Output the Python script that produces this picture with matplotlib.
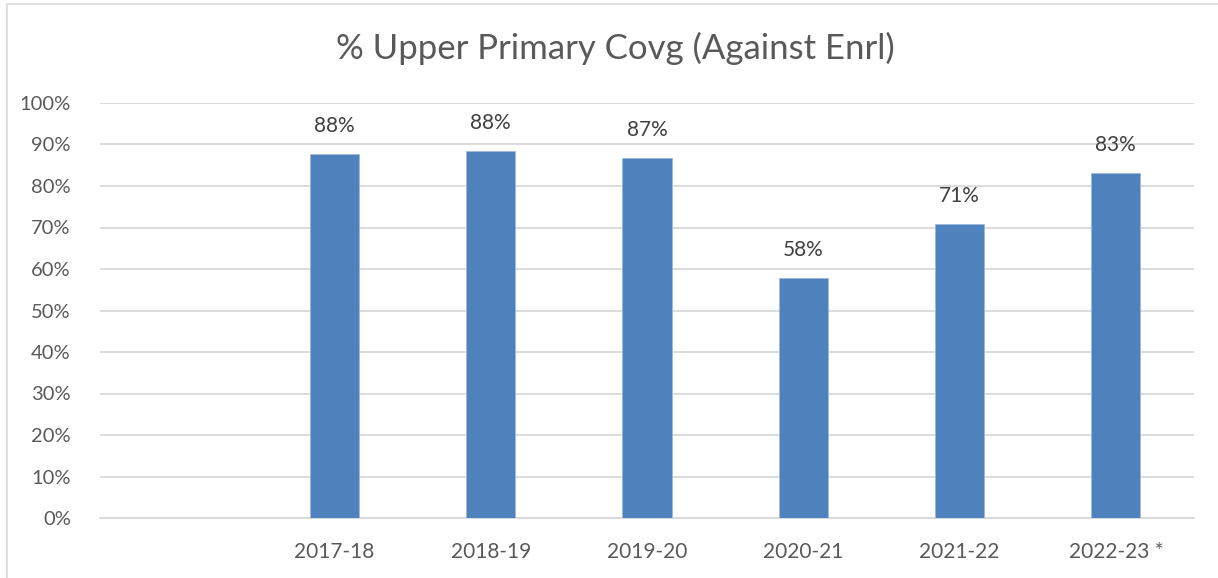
import matplotlib
matplotlib.use("Agg")
import matplotlib.pyplot as plt
from matplotlib.patches import Rectangle

categories = ["", "2017-18", "2018-19", "2019-20", "2020-21", "2021-22", "2022-23 *"]
values = [None, 87.8, 88.4, 86.8, 57.8, 70.9, 83.1]
labels = ["", "88%", "88%", "87%", "58%", "71%", "83%"]
yticks = [0, 10, 20, 30, 40, 50, 60, 70, 80, 90, 100]

W, H = 1218, 578
fig = plt.figure(figsize=(W / 100, H / 100), dpi=100)
plt.rcParams['font.family'] = ['Lato', 'DejaVu Sans']

# chart border
fig.patches.append(Rectangle((7 / W, -0.05), 1.1, (H - 4) / H + 0.05, transform=fig.transFigure,
                             fill=False, edgecolor="#D9D9D9", linewidth=1.2))

ax = fig.add_axes([100 / W, 60 / H, (1194 - 100) / W, (518 - 103) / H])
xs = list(range(len(categories)))
bx = [x for x, v in zip(xs, values) if v is not None]
bv = [v for v in values if v is not None]
bl = [l for l, v in zip(labels, values) if v is not None]
ax.bar(bx, bv, width=0.315, color="#4F81BD", edgecolor="#9DB9DE", linewidth=0.6, zorder=3)
for x, v, l in zip(bx, bv, bl):
    ax.annotate(l, (x, v), xytext=(0, 13), textcoords="offset points", ha="center", va="bottom",
                fontsize=15, color="#404040")

ax.set_xlim(-0.5, len(categories) - 0.5)
ax.set_ylim(0, 100)
ax.set_yticks(yticks)
ax.set_yticklabels([f"{t}%" for t in yticks])
ax.set_xticks(xs)
ax.set_xticklabels(categories)
ax.yaxis.grid(True, color="#D9D9D9", linewidth=1.3, zorder=0)
ax.set_axisbelow(True)
for s in ["top", "right", "left"]:
    ax.spines[s].set_visible(False)
ax.spines["bottom"].set_color("#D9D9D9")
ax.spines["bottom"].set_linewidth(1.3)
ax.tick_params(axis="both", length=0, labelsize=14.5, labelcolor="#595959")
ax.tick_params(axis="x", labelsize=15, pad=17)
ax.tick_params(axis="y", pad=21)

fig.text(615 / W, 1 - 48 / H, "% Upper Primary Covg (Against Enrl)", ha="center", va="center",
         fontsize=25, color="#595959")

fig.savefig("out.png", dpi=100)
